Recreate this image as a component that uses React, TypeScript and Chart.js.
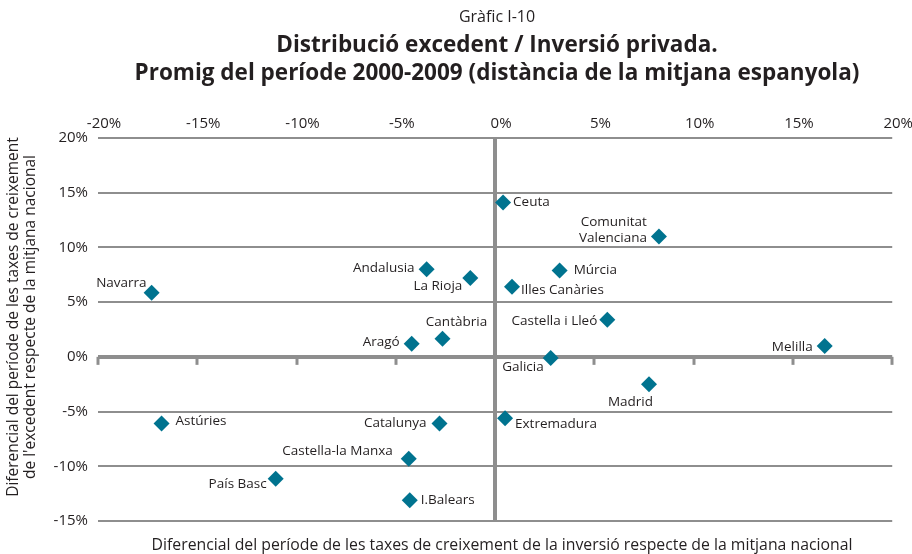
import React, { useEffect, useRef } from "react";
import { Chart, registerables } from "chart.js";

Chart.register(...registerables);

// ---- Data ----
const regions: string[] = [
  "Ceuta",
  "Comunitat\nValenciana",
  "Múrcia",
  "Illes Canàries",
  "Castella i Lleó",
  "Melilla",
  "Galicia",
  "Madrid",
  "Extremadura",
  "Andalusia",
  "La Rioja",
  "Navarra",
  "Cantàbria",
  "Aragó",
  "Astúries",
  "Catalunya",
  "Castella-la Manxa",
  "País Basc",
  "I.Balears",
];
// Differential of investment growth (x, %)
const investDiff: number[] = [
  0.4, 8.25, 3.25, 0.85, 5.65, 16.6, 2.8, 7.75, 0.5, -3.45, -1.25, -17.3, -2.65, -4.2,
  -16.8, -2.8, -4.35, -11.05, -4.3,
];
// Differential of surplus growth (y, %)
const surplusDiff: number[] = [
  14.1, 11.0, 7.9, 6.4, 3.4, 1.0, -0.1, -2.5, -5.6, 8.0, 7.2, 5.85, 1.65, 1.2,
  -6.1, -6.1, -9.3, -11.15, -13.1,
];
const xTickValues: number[] = [-20, -15, -10, -5, 0, 5, 10, 15, 20];
const yTickValues: number[] = [-15, -10, -5, 0, 5, 10, 15, 20];

const titleSmall = "Gràfic I-10";
const titleLines: string[] = [
  "Distribució excedent / Inversió privada.",
  "Promig del període 2000-2009 (distància de la mitjana espanyola)",
];
const yTitleLines: string[] = [
  "Diferencial del període de les taxes de creixement",
  "de l'excedent respecte de la mitjana nacional",
];
const xTitle =
  "Diferencial del període de les taxes de creixement de la inversió respecte de la mitjana nacional";

// ---- Label placement (style only) ----
type Place = { align: CanvasTextAlign; dx: number; dy: number };
const labelPlace: Place[] = [
  { align: "left", dx: 10, dy: 0 }, // Ceuta
  { align: "right", dx: -12, dy: -14 }, // CV
  { align: "left", dx: 14, dy: 0 }, // Murcia
  { align: "left", dx: 9, dy: 3 }, // Canaries
  { align: "right", dx: -10, dy: 2 }, // CyL
  { align: "right", dx: -12, dy: 1 }, // Melilla
  { align: "right", dx: -7, dy: 9 }, // Galicia
  { align: "right", dx: 4, dy: 18 }, // Madrid
  { align: "left", dx: 10, dy: 6 }, // Extremadura
  { align: "right", dx: -12, dy: -1 }, // Andalusia
  { align: "right", dx: -8, dy: 8 }, // La Rioja
  { align: "right", dx: -5, dy: -10 }, // Navarra
  { align: "center", dx: 14, dy: -17 }, // Cantabria
  { align: "right", dx: -12, dy: -2 }, // Arago
  { align: "left", dx: 14, dy: -2 }, // Asturies
  { align: "right", dx: -13, dy: 0 }, // Catalunya
  { align: "right", dx: -16, dy: -7 }, // CLM
  { align: "right", dx: -9, dy: 5 }, // Pais Basc
  { align: "left", dx: 11, dy: 0 }, // Balears
];

const FONT = "'Open Sans', 'DejaVu Sans', sans-serif";
const TEXT = "#231f20";
const GRID = "#8e8e8e";
const MARK = "#00738f";

const decorPlugin = {
  id: "decor",
  beforeDatasetsDraw(chart: any) {
    const { ctx, scales } = chart;
    const xs = scales.x;
    const ys = scales.y;
    const y0 = ys.getPixelForValue(0);
    ctx.save();
    ctx.strokeStyle = GRID;
    ctx.lineWidth = 3;
    for (const v of xTickValues) {
      const px = Math.round(xs.getPixelForValue(v));
      ctx.beginPath();
      ctx.moveTo(px, y0);
      ctx.lineTo(px, y0 + 8);
      ctx.stroke();
    }
    ctx.restore();
  },
  afterDatasetsDraw(chart: any) {
    const { ctx } = chart;
    const meta = chart.getDatasetMeta(0);
    ctx.save();
    ctx.fillStyle = TEXT;
    ctx.font = `13.5px ${FONT}`;
    ctx.textBaseline = "middle";
    meta.data.forEach((pt: any, i: number) => {
      const p = labelPlace[i];
      ctx.textAlign = p.align;
      const lines = regions[i].split("\n");
      lines.forEach((ln, k) => {
        ctx.fillText(ln, pt.x + p.dx, pt.y + p.dy + k * 16);
      });
    });
    ctx.restore();
  },
  afterDraw(chart: any) {
    const { ctx } = chart;
    const cx = 497;
    ctx.save();
    ctx.fillStyle = TEXT;
    ctx.textAlign = "center";
    ctx.textBaseline = "middle";
    ctx.font = `16px ${FONT}`;
    ctx.fillText(titleSmall, cx, 17);
    ctx.font = `bold 22.5px ${FONT}`;
    ctx.fillText(titleLines[0], cx, 46);
    ctx.fillText(titleLines[1], cx, 74);
    ctx.font = `15.8px ${FONT}`;
    ctx.fillText(xTitle, 502, 545);
    // rotated y title
    ctx.font = `15.5px ${FONT}`;
    ctx.translate(0, 317);
    ctx.rotate(-Math.PI / 2);
    ctx.fillText(yTitleLines[0], 0, 14);
    ctx.fillText(yTitleLines[1], 0, 31);
    ctx.restore();
  },
};

export default function App() {
  const ref = useRef<HTMLCanvasElement>(null);
  useEffect(() => {
    if (!ref.current) return;
    const chart = new Chart(ref.current, {
      type: "scatter",
      data: {
        datasets: [
          {
            data: investDiff.map((x, i) => ({ x, y: surplusDiff[i] })),
            pointStyle: "rectRot",
            pointRadius: 8,
            pointHoverRadius: 8,
            backgroundColor: MARK,
            borderColor: MARK,
            borderWidth: 0,
          },
        ],
      },
      options: {
        animation: false,
        responsive: false,
        events: [],
        layout: { padding: { top: 108, right: 19, bottom: 33, left: 0 } },
        plugins: {
          legend: { display: false },
          tooltip: { enabled: false },
          title: { display: false },
        },
        scales: {
          x: {
            type: "linear",
            position: "top",
            min: -20,
            max: 20,
            afterBuildTicks: (s: any) => {
              s.ticks = xTickValues.map((v) => ({ value: v }));
            },
            afterFit: (s: any) => {
              s.height = 30;
            },
            border: { display: false },
            grid: {
              drawTicks: false,
              color: (c: any) =>
                c.tick && c.tick.value === 0 ? GRID : "rgba(0,0,0,0)",
              lineWidth: 4,
            },
            ticks: {
              padding: 5,
              labelOffset: 6,
              color: TEXT,
              font: { family: FONT, size: 15 },
              callback: (v: any) => `${v}%`,
            },
          },
          y: {
            type: "linear",
            min: -15,
            max: 20,
            afterBuildTicks: (s: any) => {
              s.ticks = yTickValues.map((v) => ({ value: v }));
            },
            afterFit: (s: any) => {
              s.width = 98;
            },
            border: { display: false },
            grid: {
              drawTicks: false,
              color: GRID,
              lineWidth: (c: any) => (c.tick && c.tick.value === 0 ? 4 : 2),
            },
            ticks: {
              padding: 10,
              color: TEXT,
              font: { family: FONT, size: 15 },
              callback: (v: any) => `${v}%`,
            },
          },
        },
      },
      plugins: [decorPlugin],
    });
    return () => chart.destroy();
  }, []);
  return (
    <div
      style={{
        position: "absolute",
        left: 0,
        top: 0,
        width: 912,
        height: 554,
        background: "#fff",
      }}
    >
      <canvas ref={ref} width={912} height={554} />
    </div>
  );
}
